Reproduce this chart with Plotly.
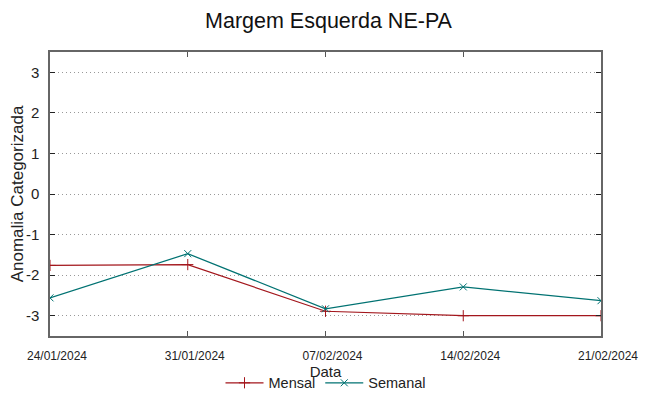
import plotly.graph_objects as go

dates = ["2024-01-24", "2024-01-31", "2024-02-07", "2024-02-14", "2024-02-21"]
tick_labels = ["24/01/2024", "31/01/2024", "07/02/2024", "14/02/2024", "21/02/2024"]
mensal = [-1.76, -1.74, -2.89, -3.0, -3.0]
semanal = [-2.56, -1.47, -2.83, -2.29, -2.63]
y_ticks = [-3, -2, -1, 0, 1, 2, 3]
y_tick_labels = ["-3", "-2", "-1", "0", "1", "2", "3"]

red = "#a3161c"
teal = "#007272"
font = "Liberation Sans"

fig = go.Figure()
fig.add_trace(go.Scatter(
    x=dates, y=mensal, name="Mensal", mode="lines+markers",
    line=dict(color=red, width=1.2),
    marker=dict(symbol="cross-thin", size=8, line=dict(color=red, width=1)),
))
fig.add_trace(go.Scatter(
    x=dates, y=semanal, name="Semanal", mode="lines+markers",
    line=dict(color=teal, width=1.2),
    marker=dict(symbol="x-thin", size=7, line=dict(color=teal, width=1)),
))

# page body has an 8px default margin; figure sized to fill the rest of the window
fig.update_layout(
    width=641, height=388,
    margin=dict(l=42, r=48, t=44, b=60, autoexpand=False),
    paper_bgcolor="white", plot_bgcolor="white",
    font=dict(family=font, color="#222222"),
    title=dict(text="Margem Esquerda NE-PA", x=0.5, xanchor="center",
               y=0.969, yanchor="middle", font=dict(size=21.5, color="#111111")),
    showlegend=True,
    legend=dict(orientation="h", x=0.5, xanchor="center", y=-0.165, yanchor="middle",
                font=dict(size=14.5), bgcolor="rgba(0,0,0,0)", itemwidth=38,
                tracegroupgap=0),
)
fig.update_xaxes(
    type="date", range=[dates[0], dates[-1]], automargin=False,
    tickvals=dates, ticktext=tick_labels, tickfont=dict(size=12),
    ticks="inside", ticklen=5, tickcolor="#555555", mirror="ticks",
    showline=True, linecolor="#666666", linewidth=1.5,
    showgrid=False, zeroline=False, ticklabelstandoff=8, ticklabelshift=7,
    title=dict(text="Data", font=dict(size=15), standoff=0),
)
fig.update_yaxes(
    range=[-3.5, 3.5], automargin=False,
    tickvals=y_ticks, ticktext=y_tick_labels, tickfont=dict(size=15),
    ticks="inside", ticklen=5, tickcolor="#222222", mirror="ticks",
    showline=True, linecolor="#666666", linewidth=1.5,
    showgrid=True, gridcolor="#999999", griddash="1px,3px", gridwidth=1,
    zeroline=False, ticklabelstandoff=6,
    title=dict(text="Anomalia Categorizada", font=dict(size=17), standoff=6),
)

fig.write_html("out.html")
